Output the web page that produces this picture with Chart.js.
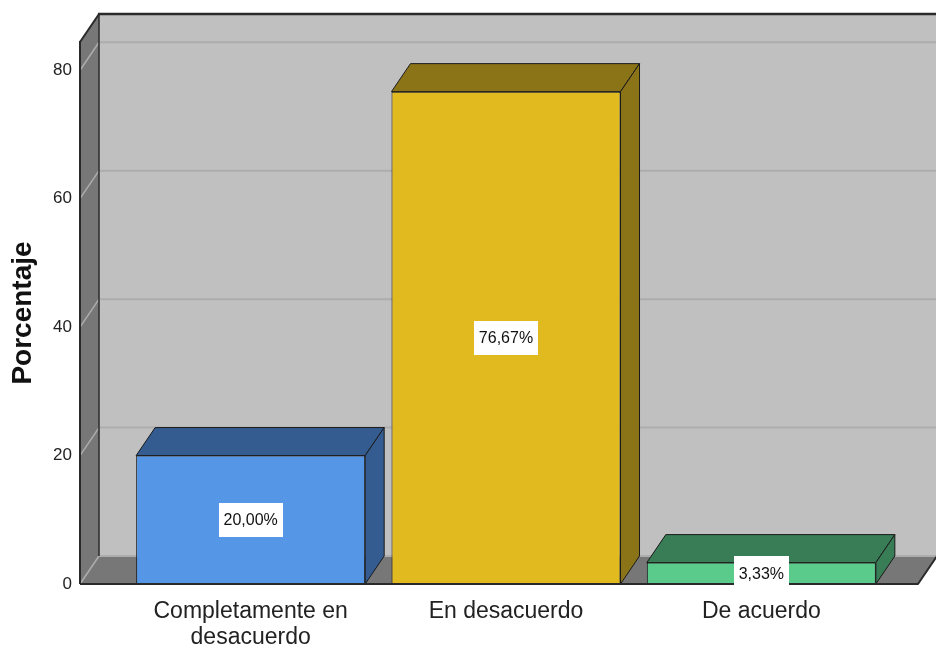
<!DOCTYPE html>
<html>
<head>
<meta charset="utf-8">
<title>Porcentaje</title>
<script src="https://cdn.jsdelivr.net/npm/chart.js@4.4.1/dist/chart.umd.min.js"></script>
<style>
  html, body { margin: 0; padding: 0; background: #fff; }
  canvas { display: block; }
</style>
</head>
<body>
<canvas id="grafico" width="936" height="651"></canvas>
<script>
// datos
const categorias = [["Completamente en", "desacuerdo"], "En desacuerdo", "De acuerdo"];
const porcentajes = [20.0, 76.67, 3.33];
const ticksY = [0, 20, 40, 60, 80];

// colores: cara frontal y cara superior/lateral
const colorFrente = ["#5596E6", "#E1BA1F", "#5BCB8B"];
const colorSombra = ["#345C91", "#8B7417", "#387D56"];

const FUENTE = "'Liberation Sans', Arial, sans-serif";

// profundidad del efecto 3D
const PROF_X = 19;
const PROF_Y = 28;

function poligono(ctx, puntos, relleno, borde, ancho) {
  ctx.beginPath();
  ctx.moveTo(puntos[0][0], puntos[0][1]);
  for (let i = 1; i < puntos.length; i++) ctx.lineTo(puntos[i][0], puntos[i][1]);
  ctx.closePath();
  if (relleno) {
    ctx.fillStyle = relleno;
    ctx.fill();
  }
  if (borde) {
    ctx.strokeStyle = borde;
    ctx.lineWidth = ancho || 1;
    ctx.stroke();
  }
}

function linea(ctx, x1, y1, x2, y2, color, ancho) {
  ctx.beginPath();
  ctx.moveTo(x1, y1);
  ctx.lineTo(x2, y2);
  ctx.strokeStyle = color;
  ctx.lineWidth = ancho;
  ctx.stroke();
}

const caja3d = {
  id: "caja3d",
  beforeDatasetsDraw(chart) {
    const ctx = chart.ctx;
    const area = chart.chartArea;
    const y = chart.scales.y;
    const L = area.left - 43;
    const R = area.right + 29;
    const top = area.top;
    const bot = area.bottom;
    ctx.save();
    // pared del fondo
    poligono(ctx, [[L + PROF_X, top - PROF_Y], [R + PROF_X, top - PROF_Y], [R + PROF_X, bot - PROF_Y], [L + PROF_X, bot - PROF_Y]], "#C0C0C0");
    // pared izquierda
    poligono(ctx, [[L, top], [L + PROF_X, top - PROF_Y], [L + PROF_X, bot - PROF_Y], [L, bot]], "#777777");
    // suelo
    poligono(ctx, [[L, bot], [L + PROF_X, bot - PROF_Y], [R + PROF_X, bot - PROF_Y], [R, bot]], "#777777");
    // lineas de cuadricula
    y.ticks.forEach(t => {
      const py = y.getPixelForValue(t.value);
      linea(ctx, L + PROF_X, py - PROF_Y, R + PROF_X, py - PROF_Y, "#ADADAD", 2);
      linea(ctx, L, py, L + PROF_X, py - PROF_Y, "#ADADAD", 1.5);
    });
    // aristas
    linea(ctx, L + PROF_X, top - PROF_Y, L + PROF_X, bot - PROF_Y, "#2A2A2A", 1.5);
    linea(ctx, L, top, L + PROF_X, top - PROF_Y, "#2A2A2A", 2);
    linea(ctx, L + PROF_X - 1, top - PROF_Y, R + PROF_X + 5, top - PROF_Y, "#2A2A2A", 2.5);
    linea(ctx, L, top - 1, L, bot, "#2A2A2A", 2);
    ctx.restore();
  },
  afterDatasetsDraw(chart) {
    const ctx = chart.ctx;
    const area = chart.chartArea;
    const L = area.left - 43;
    const R = area.right + 29;
    const bot = area.bottom;
    const meta = chart.getDatasetMeta(0);
    ctx.save();
    ctx.lineJoin = "round";
    meta.data.forEach((barra, i) => {
      const izq = barra.x - barra.width / 2;
      const der = barra.x + barra.width / 2;
      const arriba = barra.y;
      const base = barra.base;
      // cara superior
      poligono(ctx, [[izq, arriba], [izq + PROF_X, arriba - PROF_Y], [der + PROF_X, arriba - PROF_Y], [der, arriba]], colorSombra[i], "#1A1A1A", 1);
      // cara lateral
      poligono(ctx, [[der, arriba], [der + PROF_X, arriba - PROF_Y], [der + PROF_X, base - PROF_Y], [der, base]], colorSombra[i], "#1A1A1A", 1);
    });
    // borde frontal del suelo
    ctx.beginPath();
    ctx.moveTo(L, bot);
    ctx.lineTo(R, bot);
    ctx.lineTo(R + PROF_X, bot - PROF_Y);
    ctx.strokeStyle = "#2A2A2A";
    ctx.lineWidth = 2;
    ctx.stroke();

    // etiquetas de valor
    ctx.font = "16px " + FUENTE;
    ctx.textAlign = "center";
    ctx.textBaseline = "middle";
    meta.data.forEach((barra, i) => {
      const texto = porcentajes[i].toFixed(2).replace(".", ",") + "%";
      const cy = (barra.y + barra.base) / 2;
      const w = ctx.measureText(texto).width + 10;
      const h = 34;
      ctx.fillStyle = "#FFFFFF";
      ctx.fillRect(Math.round(barra.x - w / 2), Math.round(cy - h / 2), Math.round(w), h);
      ctx.fillStyle = "#111111";
      ctx.fillText(texto, barra.x, cy + 1);
    });
    ctx.restore();
  }
};

const ctx = document.getElementById("grafico").getContext("2d");

new Chart(ctx, {
  type: "bar",
  data: {
    labels: categorias,
    datasets: [
      {
        label: "Porcentaje",
        data: porcentajes,
        backgroundColor: colorFrente,
        borderColor: "#1A1A1A",
        borderWidth: 1,
        categoryPercentage: 1,
        barPercentage: 0.897,
      },
    ],
  },
  options: {
    responsive: false,
    animation: false,
    layout: {
      padding: { left: 2, top: 42, right: 47, bottom: 0 },
    },
    plugins: {
      legend: { display: false },
      tooltip: { enabled: false },
    },
    scales: {
      x: {
        grid: { display: false, drawTicks: false },
        border: { display: false },
        ticks: {
          padding: 15,
          maxRotation: 0,
          minRotation: 0,
          autoSkip: false,
          color: "#222222",
          font: { family: FUENTE, size: 23, lineHeight: "26px" },
        },
        afterFit(scale) {
          scale.height = 67;
        },
      },
      y: {
        min: 0,
        max: 84.4,
        grid: { display: false, drawTicks: false },
        border: { display: false },
        title: {
          display: true,
          text: "Porcentaje",
          color: "#111111",
          font: { family: FUENTE, size: 28, weight: "bold" },
        },
        ticks: {
          padding: 51,
          color: "#222222",
          font: { family: FUENTE, size: 17 },
        },
        afterBuildTicks(scale) {
          scale.ticks = ticksY.map(v => ({ value: v }));
        },
        afterFit(scale) {
          // el relleno de las etiquetas no debe recortar el area del grafico
          scale.width = 121;
          scale.paddingTop = 0;
          scale.paddingBottom = 0;
        },
      },
    },
  },
  plugins: [caja3d],
});
</script>
</body>
</html>
